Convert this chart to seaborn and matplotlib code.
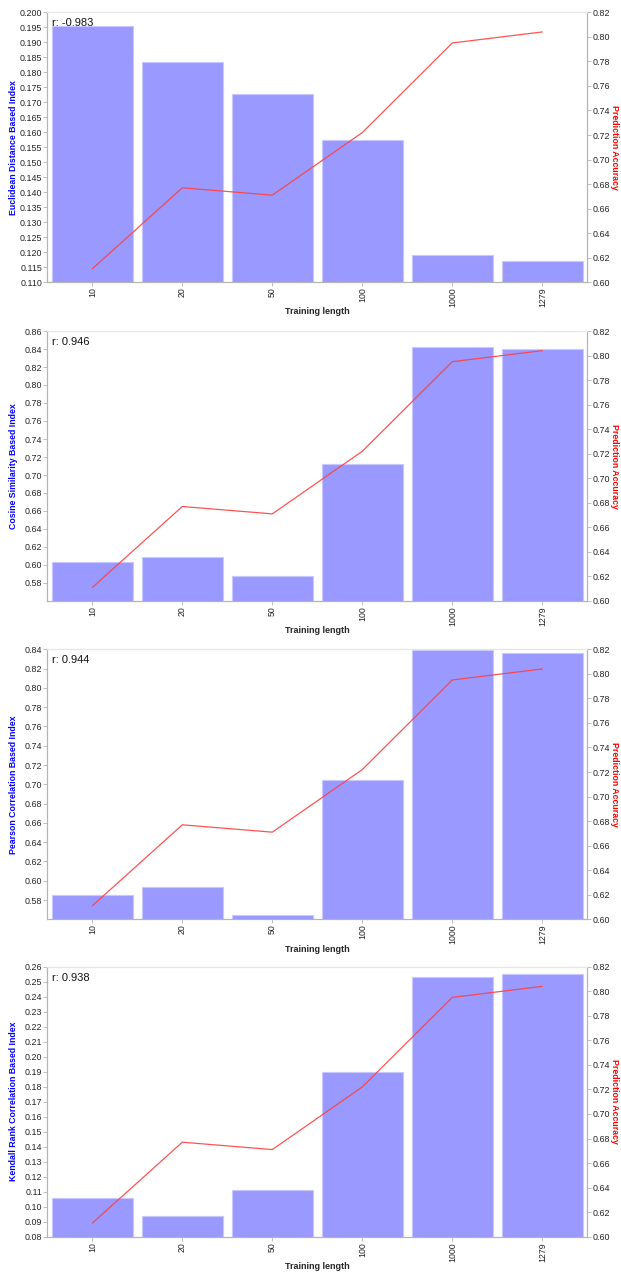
import numpy as np
import pandas as pd
import matplotlib
matplotlib.use("Agg")
import matplotlib.pyplot as plt
import seaborn as sns
from matplotlib.ticker import FixedLocator, FormatStrFormatter

# Training lengths (categories) and prediction accuracy shared by all panels
lengths = ["10", "20", "50", "100", "1000", "1279"]
accuracy = [0.611, 0.677, 0.671, 0.722, 0.795, 0.804]

# Similarity-index values per training length
euclidean = [0.1953, 0.1834, 0.1729, 0.1574, 0.1190, 0.1171]
cosine = [0.6028, 0.6087, 0.5878, 0.7119, 0.8426, 0.8400]
pearson = [0.5853, 0.5933, 0.5642, 0.7043, 0.8390, 0.8358]
kendall = [0.1061, 0.0938, 0.1112, 0.1901, 0.2531, 0.2551]

index_names = [
    "Euclidean Distance Based Index",
    "Cosine Similarity Based Index",
    "Pearson Correlation Based Index",
    "Kendall Rank Correlation Based Index",
]
r_values = ["-0.983", "0.946", "0.944", "0.938"]

sns.set_style("white")
plt.rcParams["font.family"] = ["Liberation Sans", "DejaVu Sans"]

panels = [
    dict(values=euclidean, ylim=(0.110, 0.200),
         ticks=np.round(np.arange(0.110, 0.2001, 0.005), 3), fmt="%.3f"),
    dict(values=cosine, ylim=(0.56, 0.86),
         ticks=np.round(np.arange(0.58, 0.8601, 0.02), 2), fmt="%.2f"),
    dict(values=pearson, ylim=(0.56, 0.84),
         ticks=np.round(np.arange(0.58, 0.8401, 0.02), 2), fmt="%.2f"),
    dict(values=kendall, ylim=(0.08, 0.26),
         ticks=np.round(np.arange(0.08, 0.2601, 0.01), 2), fmt="%.2f"),
]
acc_ticks = np.round(np.arange(0.60, 0.8201, 0.02), 2)

W, H = 621, 1274
fig = plt.figure(figsize=(W / 100, H / 100), dpi=100)

left_px, width_px, height_px = 47.3, 540.0, 270.0
tops_px = [12.3, 331.0, 649.3, 966.7]

bar_color = "#9999ff"
bar_edge = "#c8c8ff"
line_color = "#ff4040"
spine_color = "#b4b4b4"
tick_text = "#222222"

for i, p in enumerate(panels):
    bottom = 1 - (tops_px[i] + height_px) / H
    ax = fig.add_axes([left_px / W, bottom, width_px / W, height_px / H])
    df = pd.DataFrame({"length": lengths, "value": p["values"]})
    sns.barplot(data=df, x="length", y="value", ax=ax, color=bar_color,
                saturation=1, width=0.9, edgecolor=bar_edge, linewidth=0.8)
    ax.set_xlim(-0.5, len(lengths) - 0.5)
    ax.set_ylim(*p["ylim"])
    ax.yaxis.set_major_locator(FixedLocator(p["ticks"]))
    ax.yaxis.set_major_formatter(FormatStrFormatter(p["fmt"]))
    ax.set_ylabel(index_names[i], color="#0000ff", fontsize=6.3,
                  fontweight="bold", va="center", ha="center")
    ax.yaxis.set_label_coords(-0.0625, 0.5)
    ax.set_xlabel("Training length", fontsize=6.5, fontweight="bold",
                  va="center", ha="center")
    ax.xaxis.set_label_coords(0.5, -0.11)
    ax.tick_params(axis="x", labelrotation=90, labelsize=6.3)
    ax.tick_params(axis="y", labelsize=6.4)
    ax.tick_params(axis="both", direction="out", length=3, width=0.6,
                   color=spine_color, labelcolor=tick_text,
                   pad=0.8, left=True, bottom=True)

    ax2 = ax.twinx()
    dl = pd.DataFrame({"length": lengths, "acc": accuracy})
    sns.lineplot(data=dl, x="length", y="acc", ax=ax2, color=line_color,
                 linewidth=0.9, alpha=0.9, sort=False)
    ax2.set_xlim(-0.5, len(lengths) - 0.5)
    ax2.set_ylim(0.60, 0.82)
    ax2.yaxis.set_major_locator(FixedLocator(acc_ticks))
    ax2.yaxis.set_major_formatter(FormatStrFormatter("%.2f"))
    ax2.set_ylabel("Prediction Accuracy", color="#ff0000", fontsize=6.3,
                   fontweight="bold", rotation=270, va="center", ha="center")
    ax2.yaxis.set_label_coords(1.051, 0.5)
    ax2.tick_params(axis="y", direction="out", length=3, width=0.6,
                    color=spine_color, labelsize=6.4, labelcolor=tick_text,
                    pad=0.8, right=True)

    for a in (ax, ax2):
        for side in ("left", "right", "bottom"):
            a.spines[side].set_color(spine_color)
            a.spines[side].set_linewidth(0.8)
        a.spines["top"].set_color("#e6e6e6")
        a.spines["top"].set_linewidth(0.8)

    ax.text(0.008, 0.978, f"r: {r_values[i]}", transform=ax.transAxes,
            ha="left", va="top", fontsize=8, color="#111111")

fig.savefig("out.png", dpi=100)
